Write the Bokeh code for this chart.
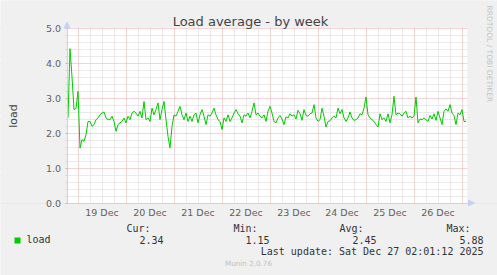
from datetime import datetime, timedelta
from bokeh.plotting import figure
from bokeh.models import (FixedTicker, PrintfTickFormatter, Range1d, Label, BoxAnnotation,
                          Arrow, NormalHead)
from bokeh.embed import file_html
from bokeh.resources import INLINE

# ---------------- data ----------------
loads = [
    2.43, 4.41, 3.60, 2.67, 2.70, 3.19, 1.57, 1.81, 1.76, 1.95, 2.33, 2.33, 2.19, 2.24, 2.38, 2.43, 2.52,
    2.57, 2.60, 2.43, 2.38, 2.38, 2.48, 2.33, 2.05, 2.24, 2.29, 2.33, 2.43, 2.29, 2.48, 2.38, 2.57, 2.62,
    2.57, 2.48, 2.62, 2.43, 2.90, 2.38, 2.43, 2.33, 2.71, 2.52, 2.67, 2.86, 2.38, 2.67, 2.90, 2.38, 1.90,
    1.57, 2.19, 2.52, 2.48, 2.62, 2.76, 2.52, 2.38, 2.57, 2.33, 2.48, 2.33, 2.52, 2.57, 2.29, 2.52, 2.67,
    2.48, 2.24, 2.52, 2.48, 2.57, 2.71, 2.52, 2.38, 2.33, 2.10, 2.43, 2.33, 2.52, 2.33, 2.43, 2.57, 2.67,
    2.55, 2.48, 2.29, 2.52, 2.48, 2.57, 2.43, 2.62, 2.86, 2.52, 2.57, 2.48, 2.43, 2.52, 2.33, 2.62, 2.76,
    2.57, 2.33, 2.29, 2.43, 2.50, 2.40, 2.24, 2.46, 2.43, 2.55, 2.48, 2.52, 2.40, 2.65, 2.55, 2.36, 2.67,
    2.50, 2.48, 2.55, 2.57, 2.81, 2.43, 2.33, 2.38, 2.71, 2.48, 2.17, 2.33, 2.35, 2.43, 2.48, 2.43, 2.71,
    2.55, 2.67, 2.43, 2.33, 2.43, 2.60, 2.43, 2.36, 2.38, 2.43, 2.55, 2.52, 2.71, 3.03, 2.52, 2.43, 2.38,
    2.33, 2.24, 2.17, 2.55, 2.38, 2.43, 2.33, 2.55, 2.29, 2.52, 3.05, 2.52, 2.57, 2.55, 2.48, 2.57, 2.62,
    2.43, 2.48, 2.43, 2.48, 3.03, 2.29, 2.40, 2.38, 2.43, 2.38, 2.33, 2.50, 2.40, 2.55, 2.36, 2.62, 2.43,
    2.24, 2.62, 2.69, 2.62, 2.81, 2.57, 2.50, 2.24, 2.57, 2.52, 2.67, 2.33, 2.33,
]
last_time = datetime(2025, 12, 27, 2, 0)
times = [last_time - timedelta(hours=len(loads) - 1 - i) for i in range(len(loads))]

day_labels = ["19 Dec", "20 Dec", "21 Dec", "22 Dec", "23 Dec", "24 Dec", "25 Dec", "26 Dec"]
y_ticks = [0.0, 1.0, 2.0, 3.0, 4.0, 5.0]
legend_heads = ["Cur:", "Min:", "Avg:", "Max:"]
legend_values = ["2.34", "1.15", "2.45", "5.88"]
series_name = "load"
title_text = "Load average - by week"
last_update = "Last update: Sat Dec 27 02:01:12 2025"
munin_text = "Munin 2.0.76"
rrd_text = "RRDTOOL / TOBI OETIKER"

# ---------------- geometry (pixels of the 497x275 canvas) ----------------
W, H = 497, 275
FL, FR, FT, FB = 67, 467, 27, 203          # white plot area
Y0PX = 202.5                               # pixel row centre of load 0.0
PPU = 35.0                                 # pixels per 1.0 load
HPP = 0.5                                  # hours per pixel
X0 = datetime(2025, 12, 18, 18, 45)        # time at left edge of plot area
X1 = X0 + timedelta(hours=(FR - FL) * HPP)
EPOCH = datetime(1970, 1, 1)


def ms(dt):
    return (dt - EPOCH).total_seconds() * 1000.0


def xd(px):
    return ms(X0 + timedelta(hours=(px - FL) * HPP))


def yd(py):
    return (Y0PX - py) / PPU


AXIS_C = "#c8d0f4"
MGRID_C = "#e8a8a8"
GRID_C = "#d4d4d4"
TXT_C = "#606060"
BG = "#f0f0f0"
DARK = "#333333"

p = figure(width=W, height=H, x_axis_type="datetime", output_backend="svg",
           toolbar_location=None, title=None,
           x_range=Range1d(xd(0), xd(W)), y_range=Range1d(yd(H), yd(0)),
           min_border=0, min_border_left=0, min_border_right=0,
           min_border_top=0, min_border_bottom=0)
p.background_fill_color = BG
p.border_fill_color = BG
p.outline_line_color = None

# white plot area (under the grid) and masks that keep the grid inside it
p.add_layout(BoxAnnotation(left=xd(FL), right=xd(FR), top=yd(FT), bottom=yd(FB),
                           fill_color="white", fill_alpha=1.0, line_color=None, level="image"))
for l, r, t, b in [(0, W, 0, FT), (0, W, FB, H), (0, FL, FT, FB), (FR, W, FT, FB)]:
    p.add_layout(BoxAnnotation(left=xd(l), right=xd(r), top=yd(t), bottom=yd(b),
                               fill_color=BG, fill_alpha=1.0, line_color=None,
                               level="underlay"))

# axes fixed at the plot-area edges
p.xaxis.fixed_location = 0.0
p.xaxis.bounds = (ms(X0), ms(X1))
p.yaxis.fixed_location = xd(FL - 0.5)
p.yaxis.bounds = (0.0, 5.0)

# x ticks: labels at noon, grid at midnight (major) and every 6 h (minor)
day0 = datetime(2025, 12, 19)
noons = [ms(day0 + timedelta(days=i, hours=12)) for i in range(len(day_labels))]
midnights = [ms(day0 + timedelta(days=i)) for i in range(9)]
six_h = [ms(datetime(2025, 12, 18, 18) + timedelta(hours=6 * i)) for i in range(36)]
six_h = [t for t in six_h if t not in midnights]

p.xaxis.ticker = FixedTicker(ticks=noons)
p.xaxis.major_label_overrides = {t: lab for t, lab in zip(noons, day_labels)}
p.xgrid.ticker = FixedTicker(ticks=midnights, minor_ticks=six_h)

p.yaxis.ticker = FixedTicker(ticks=y_ticks,
                             minor_ticks=[round(0.2 * i, 1) for i in range(26) if i % 5])
p.yaxis.formatter = PrintfTickFormatter(format="%.1f")

for g in (p.xgrid, p.ygrid):
    g.grid_line_color = MGRID_C
    g.grid_line_dash = "1 1"
    g.grid_line_width = 1
    g.minor_grid_line_color = GRID_C
    g.minor_grid_line_dash = "1 1"
    g.minor_grid_line_width = 1

for ax in (p.xaxis, p.yaxis):
    ax.axis_line_color = AXIS_C
    ax.major_label_text_font = "DejaVu Sans"
    ax.major_label_text_font_size = "9.5px"
    ax.major_label_text_font_style = "normal"
    ax.major_label_text_color = TXT_C
    ax.major_tick_in = 0
    ax.minor_tick_in = 0
p.xaxis.major_tick_out = 0
p.xaxis.minor_tick_out = 0
p.xaxis.major_tick_line_color = None
p.xaxis.minor_tick_line_color = None
p.xaxis.major_label_standoff = 4
p.yaxis.major_tick_out = 2
p.yaxis.minor_tick_out = 2
p.yaxis.major_tick_line_color = MGRID_C
p.yaxis.minor_tick_line_color = GRID_C
p.yaxis.major_label_standoff = 4
p.yaxis.axis_label = series_name
p.yaxis.axis_label_text_font = "DejaVu Sans"
p.yaxis.axis_label_text_font_size = "11px"
p.yaxis.axis_label_text_font_style = "normal"
p.yaxis.axis_label_text_color = "#444444"
p.yaxis.axis_label_standoff = 23

# axis arrows
p.add_layout(Arrow(end=NormalHead(size=6, fill_color=AXIS_C, line_color=AXIS_C),
                   x_start=xd(FL - 0.5), y_start=5.0, x_end=xd(FL - 0.5), y_end=yd(21.5),
                   line_color=AXIS_C))
p.add_layout(Arrow(end=NormalHead(size=6, fill_color=AXIS_C, line_color=AXIS_C),
                   x_start=ms(X1), y_start=0.0, x_end=xd(474), y_end=0.0,
                   line_color=AXIS_C))

# data line
p.line(times, loads, line_color="#00cc00", line_width=1)


def label(px, py, text, align="left", size="10px", font="DejaVu Sans Mono",
          color=DARK, angle=0.0):
    p.add_layout(Label(x=xd(px), y=yd(py), text=text, text_align=align,
                       text_baseline="alphabetic", text_font=font, text_font_size=size,
                       text_color=color, angle=angle))


# title and vertical credit
label(250, 21, title_text, align="center", size="13px", font="DejaVu Sans", color="#444444")
label(489, 5, rrd_text, size="7.5px", font="DejaVu Sans", color="#c4c4c4", angle=-1.5708)

# legend block
for hx, h in zip([150, 257, 363, 470], legend_heads):
    label(hx, 227.6, h, align="right")
for vx, v in zip([163, 269, 376, 483], legend_values):
    label(vx, 239.4, v, align="right")
label(26, 239.4, series_name)
p.add_layout(BoxAnnotation(left=xd(14), right=xd(20), top=yd(237), bottom=yd(243),
                           fill_color="#00cc00", fill_alpha=1.0, line_color=None))
label(483, 251.4, last_update, align="right")
label(248, 262.5, munin_text, align="center", size="7.2px", font="DejaVu Sans", color="#c0c0c0")

open("out.html", "w").write(file_html(p, INLINE))
